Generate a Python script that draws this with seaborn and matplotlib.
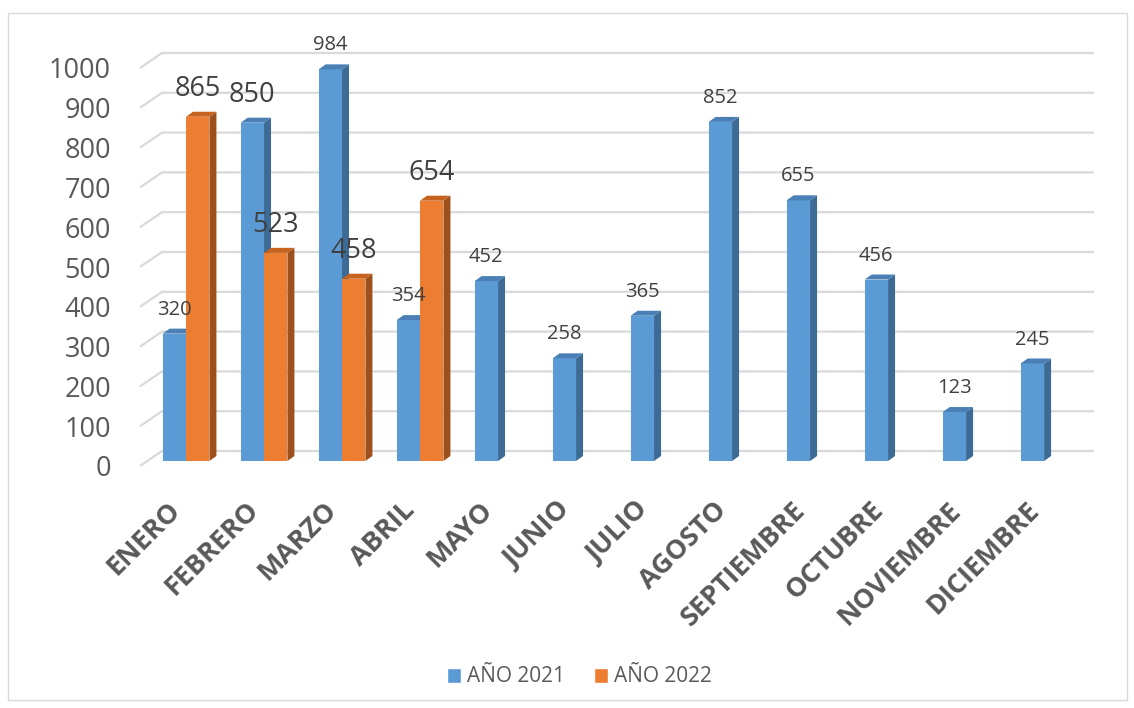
import numpy as np
import pandas as pd
import seaborn as sns
import matplotlib.pyplot as plt
from matplotlib.patches import Polygon, Rectangle
from matplotlib.transforms import ScaledTranslation

# data
meses = ['ENERO', 'FEBRERO', 'MARZO', 'ABRIL', 'MAYO', 'JUNIO', 'JULIO',
         'AGOSTO', 'SEPTIEMBRE', 'OCTUBRE', 'NOVIEMBRE', 'DICIEMBRE']
valores_2021 = [320, 850, 984, 354, 452, 258, 365, 852, 655, 456, 123, 245]
valores_2022 = [865, 523, 458, 654]
series = ['AÑO 2021', 'AÑO 2022']
y_ticks = [0, 100, 200, 300, 400, 500, 600, 700, 800, 900, 1000]

# colours (front, side, top)
colores = ['#5B9BD5', '#ED7D31']
lados = ['#3C6B96', '#9E501C']
techos = ['#4A80B6', '#C6631F']
gris = '#595959'

df = pd.DataFrame({
    'mes': meses + meses[:len(valores_2022)],
    'valor': valores_2021 + valores_2022,
    'serie': [series[0]] * len(valores_2021) + [series[1]] * len(valores_2022),
})

sns.set_theme(style='white')
plt.rcParams['font.family'] = ['Open Sans', 'DejaVu Sans']

W, H = 1134, 708
fig = plt.figure(figsize=(W / 100, H / 100), dpi=100)
ax = fig.add_axes([140 / W, 1 - 470 / H, 954 / W, 430 / H])

sns.barplot(data=df, x='mes', y='valor', hue='serie', order=meses, hue_order=series,
            palette=colores, width=0.6, saturation=1, ax=ax)
handles, labels = ax.get_legend_handles_labels()
ax.get_legend().remove()

# pixel scales
ppx = 78.0     # px per category
ppy = 0.398    # px per unit
xmin, xmax = -0.59, 11.64
ymin, ymax = -(470 - 461) / ppy, (461 - 40) / ppy
ax.set_xlim(xmin, xmax)
ax.set_ylim(ymin, ymax)

# fake 3d faces
dx, dy = 7 / ppx, 5 / ppy
for i, cont in enumerate(ax.containers):
    for bar in cont:
        x, w, h = bar.get_x(), bar.get_width(), bar.get_height()
        if np.isnan(h):
            continue
        bar.set_zorder(2 + i)
        bar.set_edgecolor('none')
        side = Polygon([(x + w, 0), (x + w + dx, dy), (x + w + dx, h + dy), (x + w, h)],
                       closed=True, fc=lados[i], ec='none', zorder=2 + i)
        top = Polygon([(x, h), (x + dx, h + dy), (x + w + dx, h + dy), (x + w, h)],
                      closed=True, fc=techos[i], ec='none', zorder=2 + i)
        ax.add_patch(side)
        ax.add_patch(top)
    txts = ax.bar_label(cont, fmt='%d', padding=10, fontsize=[14.5, 19.5][i],
                        color='#404040', zorder=6)
    if i == 0:
        txts[1].set_fontsize(19.5)   # FEBRERO 2021 label is large in the original

# back wall grid with oblique side wall
x_back = xmin + 22 / ppx
for v in y_ticks:
    ax.plot([xmin, x_back, xmax], [v - 5 / ppy, v + 10 / ppy, v + 10 / ppy],
            color='#D9D9D9', lw=1.6, zorder=0, clip_on=False, solid_capstyle='butt')

for s in ax.spines.values():
    s.set_visible(False)
ax.set_xlabel('')
ax.set_ylabel('')

ax.set_yticks(y_ticks)
ax.tick_params(axis='y', length=0, pad=21, labelsize=19.5, labelcolor=gris)
ax.set_xticks(range(len(meses)))
ax.set_xticklabels(meses, rotation=45, ha='right', va='center', rotation_mode='anchor',
                   fontsize=19.5, fontweight='bold', color=gris)
ax.tick_params(axis='x', length=0, pad=26)

for lab in ax.get_yticklabels():
    lab.set_transform(lab.get_transform() + ScaledTranslation(0, -0.05, fig.dpi_scale_trans))
for lab in ax.get_xticklabels():
    lab.set_transform(lab.get_transform() + ScaledTranslation(-0.09, 0, fig.dpi_scale_trans))

fig.legend(handles, labels, loc='center', bbox_to_anchor=(0.511, 1 - 677 / H), ncol=2,
           frameon=False, fontsize=15, handlelength=0.7, handleheight=0.7,
           handletextpad=0.3, columnspacing=1.35, labelcolor=gris)

# chart border
fig.add_artist(Rectangle((8 / W, 8 / H), 1119 / W, 687 / H, transform=fig.transFigure,
                         fill=False, ec='#D9D9D9', lw=1))

fig.savefig('out.png', dpi=100)
